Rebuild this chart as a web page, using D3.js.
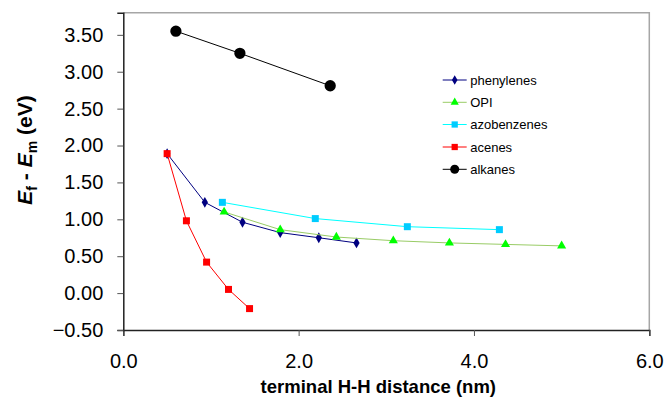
<!DOCTYPE html>
<html>
<head>
<meta charset="utf-8">
<script src="https://cdn.jsdelivr.net/npm/d3@7"></script>
<style>
  body { margin: 0; background: #fff; }
  svg { display: block; font-family: Arial, "Liberation Sans", sans-serif; }
  .tick text { font-size: 20px; fill: #000; }
  .legend text { font-size: 13px; fill: #000; }
</style>
</head>
<body>
<div id="chart"></div>
<script>
// Dados
const xTicks = [0, 2, 4, 6];
const yTicks = [-0.5, 0, 0.5, 1, 1.5, 2, 2.5, 3, 3.5];

const phenylenes = [[0.50, 1.89], [0.93, 1.23], [1.36, 0.96], [1.79, 0.82], [2.23, 0.75], [2.66, 0.68]];
const opi = [[1.15, 1.10], [1.79, 0.86], [2.43, 0.76], [3.08, 0.71], [3.72, 0.68], [4.36, 0.66], [5.00, 0.64]];
const azobenzenes = [[1.13, 1.23], [2.19, 1.01], [3.24, 0.90], [4.29, 0.86]];
const acenes = [[0.50, 1.89], [0.72, 0.98], [0.95, 0.42], [1.20, 0.05], [1.44, -0.21]];
const alkanes = [[0.60, 3.55], [1.33, 3.25], [2.36, 2.81]];

const seriesNames = ["phenylenes", "OPI", "azobenzenes", "acenes", "alkanes"];
const seriesData = [phenylenes, opi, azobenzenes, acenes, alkanes];

// Estilo de cada série
const styles = [
  {line: "#000080", fill: "#000080", shape: d3.symbolDiamond, size: 34},
  {line: "#99cc66", fill: "#00ff00", shape: d3.symbolTriangle, size: 36},
  {line: "#00ffff", fill: "#00ccff", shape: d3.symbolSquare, size: 49},
  {line: "#ff0000", fill: "#ff0000", shape: d3.symbolSquare, size: 49},
  {line: "#000000", fill: "#000000", shape: d3.symbolCircle, size: 100}
];

const width = 666, height = 400;
const plot = {left: 123.3, right: 649.3, top: 12.7, bottom: 330};

const svg = d3.select("#chart").append("svg")
  .attr("width", width)
  .attr("height", height);

const x = d3.scaleLinear().domain([0, 6]).range([plot.left, plot.right]);
const y = d3.scaleLinear().domain([-0.5, 3.8]).range([plot.bottom, plot.top]);

// Moldura (topo e direita em cinza)
svg.append("path")
  .attr("d", `M${plot.left},${plot.top}H${plot.right}V${plot.bottom}`)
  .attr("fill", "none")
  .attr("stroke", "#a6a6a6")
  .attr("stroke-width", 1.5);

// Eixos
const xAxis = svg.append("g")
  .attr("transform", `translate(0,${plot.bottom})`)
  .call(d3.axisBottom(x).tickValues(xTicks).tickFormat(d3.format(".1f")).tickSizeOuter(0).tickSize(6).tickPadding(18));
xAxis.select(".domain").attr("stroke", "#222").attr("stroke-width", 1.5);
xAxis.selectAll(".tick line").attr("stroke", "#555");

const yAxis = svg.append("g")
  .attr("transform", `translate(${plot.left},0)`)
  .call(d3.axisLeft(y).tickValues(yTicks).tickFormat(d3.format(".2f")).tickSizeOuter(0).tickSize(6).tickPadding(14));
yAxis.select(".domain").attr("stroke", "#222").attr("stroke-width", 1.5);
yAxis.selectAll(".tick line").attr("stroke", "#555");

// Títulos dos eixos
svg.append("text")
  .attr("x", (plot.left + plot.right) / 2 - 8)
  .attr("y", 393)
  .attr("text-anchor", "middle")
  .attr("font-size", 18.5)
  .attr("font-weight", "bold")
  .text("terminal H-H distance (nm)");

const yTitle = svg.append("text")
  .attr("transform", "translate(32,150) rotate(-90)")
  .attr("text-anchor", "middle")
  .attr("font-size", 21)
  .attr("font-weight", "bold");
yTitle.append("tspan").attr("font-style", "italic").text("E");
yTitle.append("tspan").attr("font-size", 14).attr("dy", 5).text("f");
yTitle.append("tspan").attr("dy", -5).text(" - ");
yTitle.append("tspan").attr("font-style", "italic").text("E");
yTitle.append("tspan").attr("font-size", 14).attr("dy", 5).text("m");
yTitle.append("tspan").attr("dy", -5).text(" (eV)");

// Linhas e marcadores
const line = d3.line().x(d => x(d[0])).y(d => y(d[1]));

seriesData.forEach((data, i) => {
  const s = styles[i];
  svg.append("path")
    .datum(data)
    .attr("fill", "none")
    .attr("stroke", s.line)
    .attr("stroke-width", 1)
    .attr("d", line);
  svg.append("g").selectAll("path")
    .data(data)
    .enter()
    .append("path")
    .attr("transform", d => `translate(${x(d[0])},${y(d[1])})`)
    .attr("d", d3.symbol().type(s.shape).size(s.size))
    .attr("fill", s.fill);
});

// Legenda
const legend = svg.append("g").attr("class", "legend");
const legendY = [80, 102.3, 124.5, 147, 169.3];
seriesNames.forEach((name, i) => {
  const s = styles[i];
  const g = legend.append("g").attr("transform", `translate(442.7,${legendY[i]})`);
  g.append("line").attr("x1", 0).attr("x2", 24).attr("stroke", s.line).attr("stroke-width", 1);
  g.append("path")
    .attr("transform", "translate(12,0)")
    .attr("d", d3.symbol().type(s.shape).size(i === 4 ? 64 : s.size * 0.8))
    .attr("fill", s.fill);
  g.append("text").attr("x", 27.5).attr("dy", "0.35em").text(name);
});
</script>
</body>
</html>
